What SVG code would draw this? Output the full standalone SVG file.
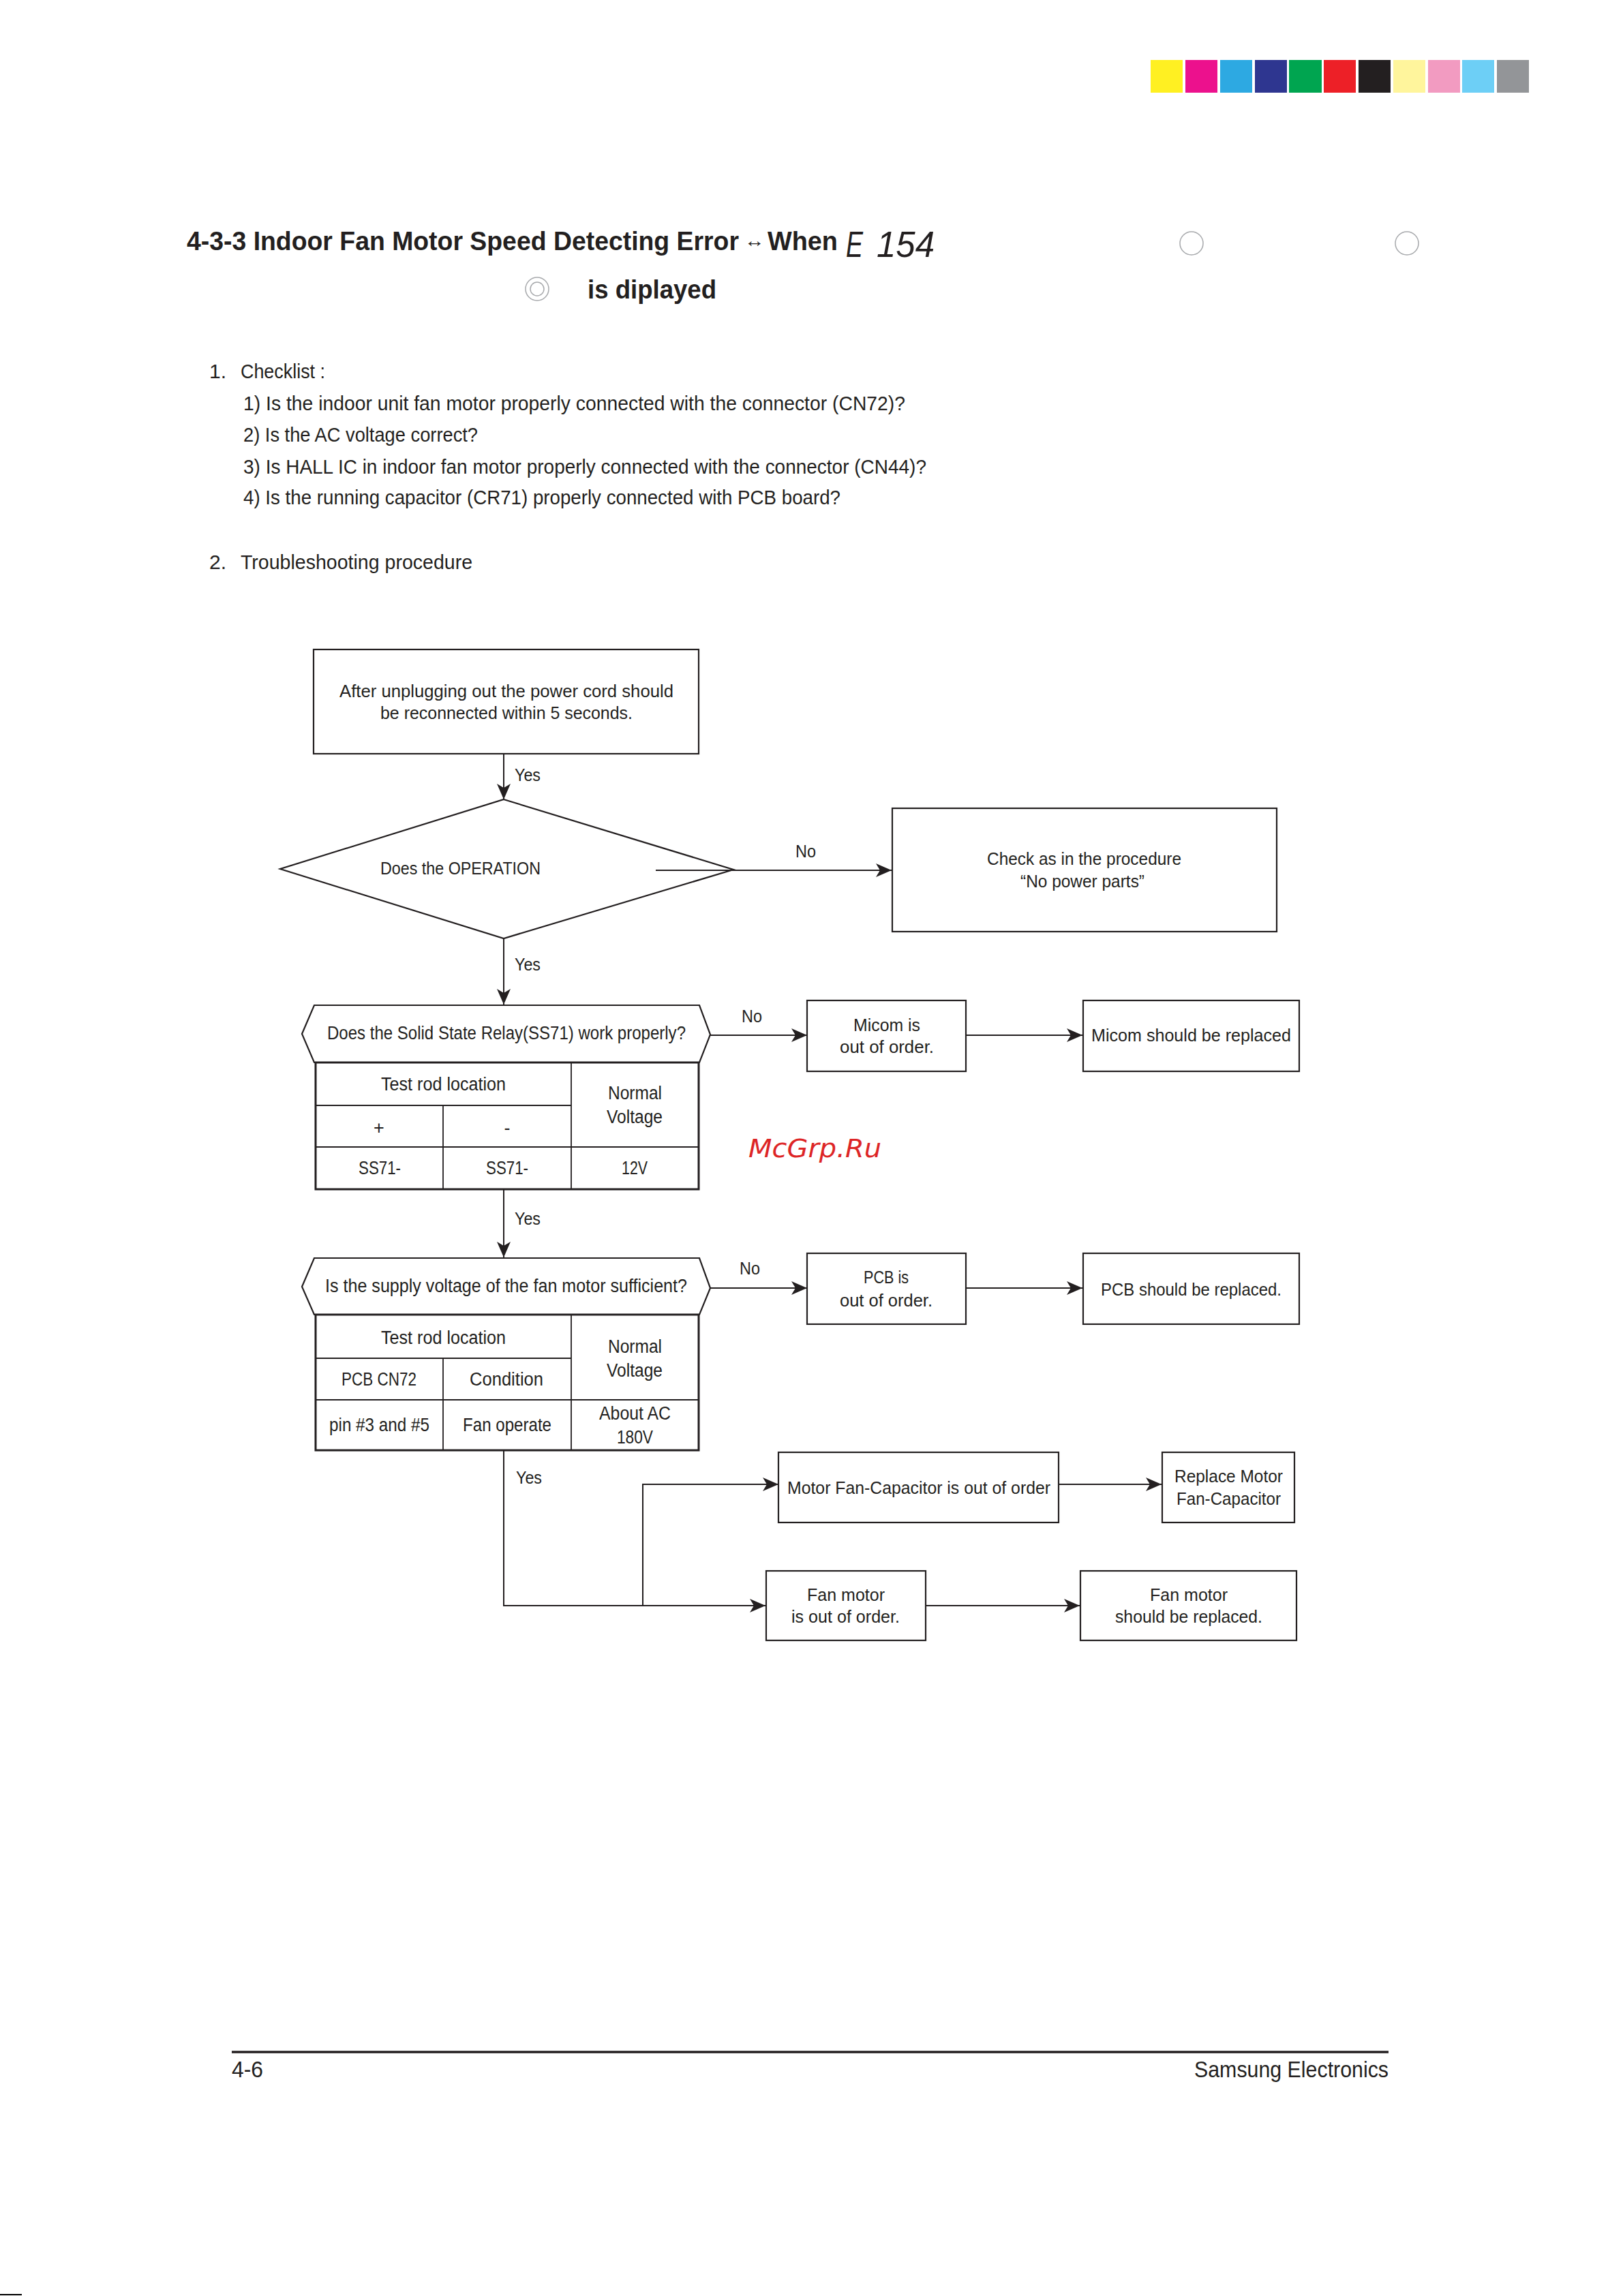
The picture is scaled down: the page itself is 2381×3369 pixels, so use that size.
<svg xmlns="http://www.w3.org/2000/svg" width="2381" height="3369" viewBox="0 0 2381 3369">
<style>
text{font-family:"Liberation Sans",Arial,sans-serif;fill:#231F20}
.b{font-weight:bold;font-size:38px}
.ck{font-size:30px}
.f{font-size:26px}
.tb{font-size:27px}
.box{fill:none;stroke:#231F20;stroke-width:2.2}
.tab{fill:none;stroke:#231F20;stroke-width:3}
.in{stroke:#231F20;stroke-width:1.8;fill:none}
.con{fill:none;stroke:#231F20;stroke-width:2}
.gc{fill:none;stroke:#a7a9ac;stroke-width:1.5}
</style>
<defs>
<marker id="ah" markerUnits="userSpaceOnUse" markerWidth="24" markerHeight="22" refX="23" refY="11" orient="auto">
<path d="M0,1 L23,11 L0,21 L6,11 Z" fill="#231F20"/>
</marker>
</defs>
<rect width="2381" height="3369" fill="#ffffff"/>
<g id="colorbar">
<rect x="1688" y="88" width="47" height="48" fill="#FFF022"/>
<rect x="1739" y="88" width="47" height="48" fill="#EC118D"/>
<rect x="1790" y="88" width="47" height="48" fill="#2DA9E2"/>
<rect x="1841" y="88" width="47" height="48" fill="#2E3690"/>
<rect x="1891" y="88" width="48" height="48" fill="#00A550"/>
<rect x="1942" y="88" width="47" height="48" fill="#ED2027"/>
<rect x="1993" y="88" width="47" height="48" fill="#231F20"/>
<rect x="2044" y="88" width="47" height="48" fill="#FFF59C"/>
<rect x="2095" y="88" width="47" height="48" fill="#F29BC1"/>
<rect x="2145" y="88" width="47" height="48" fill="#6DCFF6"/>
<rect x="2196" y="88" width="47" height="48" fill="#939598"/>
</g>
<g id="title">
<text class="b" x="274" y="367" textLength="810" lengthAdjust="spacingAndGlyphs">4-3-3 Indoor Fan Motor Speed Detecting Error</text>
<text x="1092" y="362" font-size="26" textLength="30" lengthAdjust="spacingAndGlyphs">↔</text>
<text class="b" x="1126" y="367" textLength="103" lengthAdjust="spacingAndGlyphs">When</text>
<text x="1241" y="377" font-size="54" font-style="italic" textLength="25" lengthAdjust="spacingAndGlyphs">E</text>
<text x="1286" y="377" font-size="54" font-style="italic" textLength="85" lengthAdjust="spacingAndGlyphs">154</text>
<circle class="gc" cx="1748" cy="357" r="17"/>
<circle class="gc" cx="2064" cy="357" r="17"/>
<circle class="gc" cx="788" cy="424" r="17"/>
<circle class="gc" cx="788" cy="424" r="10"/>
<text class="b" x="862" y="438" textLength="189" lengthAdjust="spacingAndGlyphs">is diplayed</text>
</g>
<g id="checklist">
<text class="ck" x="307" y="555">1.</text>
<text class="ck" x="353" y="555" textLength="124" lengthAdjust="spacingAndGlyphs">Checklist :</text>
<text class="ck" x="357" y="602" textLength="971" lengthAdjust="spacingAndGlyphs">1) Is the indoor unit fan motor properly connected with the connector (CN72)?</text>
<text class="ck" x="357" y="648" textLength="344" lengthAdjust="spacingAndGlyphs">2) Is the AC voltage correct?</text>
<text class="ck" x="357" y="695" textLength="1002" lengthAdjust="spacingAndGlyphs">3) Is HALL IC in indoor fan motor properly connected with the connector (CN44)?</text>
<text class="ck" x="357" y="740" textLength="876" lengthAdjust="spacingAndGlyphs">4) Is the running capacitor (CR71) properly connected with PCB board?</text>
<text class="ck" x="307" y="835">2.</text>
<text class="ck" x="353" y="835" textLength="340" lengthAdjust="spacingAndGlyphs">Troubleshooting procedure</text>
</g>
<g id="connectors">
<path class="con" d="M739,1106 V1173" marker-end="url(#ah)"/>
<path class="con" d="M962,1277 H1308" marker-end="url(#ah)"/>
<path class="con" d="M739,1377 V1474" marker-end="url(#ah)"/>
<path class="con" d="M1042,1519 H1184" marker-end="url(#ah)"/>
<path class="con" d="M1417,1519 H1588" marker-end="url(#ah)"/>
<path class="con" d="M739,1745 V1845" marker-end="url(#ah)"/>
<path class="con" d="M1042,1890 H1184" marker-end="url(#ah)"/>
<path class="con" d="M1417,1890 H1588" marker-end="url(#ah)"/>
<path class="con" d="M739,2128 V2356 H1123" marker-end="url(#ah)"/>
<path class="con" d="M943,2356 V2178 H1142" marker-end="url(#ah)"/>
<path class="con" d="M1553,2178 H1704" marker-end="url(#ah)"/>
<path class="con" d="M1358,2356 H1584" marker-end="url(#ah)"/>
<text class="f" x="755" y="1146" textLength="38" lengthAdjust="spacingAndGlyphs">Yes</text>
<text class="f" x="1167" y="1258" textLength="30" lengthAdjust="spacingAndGlyphs">No</text>
<text class="f" x="755" y="1424" textLength="38" lengthAdjust="spacingAndGlyphs">Yes</text>
<text class="f" x="1088" y="1500" textLength="30" lengthAdjust="spacingAndGlyphs">No</text>
<text class="f" x="755" y="1797" textLength="38" lengthAdjust="spacingAndGlyphs">Yes</text>
<text class="f" x="1085" y="1870" textLength="30" lengthAdjust="spacingAndGlyphs">No</text>
<text class="f" x="757" y="2177" textLength="38" lengthAdjust="spacingAndGlyphs">Yes</text>
</g>
<g id="node-start">
<rect class="box" x="460" y="953" width="565" height="153"/>
<text class="f" x="498" y="1023" textLength="490" lengthAdjust="spacingAndGlyphs">After unplugging out the power cord should</text>
<text class="f" x="558" y="1055" textLength="370" lengthAdjust="spacingAndGlyphs">be reconnected within 5 seconds.</text>
</g>
<g id="node-operation">
<polygon class="box" points="739,1173 1076,1276 739,1377 411,1275"/>
<text class="f" x="558" y="1283" textLength="235" lengthAdjust="spacingAndGlyphs">Does the OPERATION</text>
</g>
<g id="node-nopower">
<rect class="box" x="1309" y="1186" width="564" height="181"/>
<text class="f" x="1448" y="1269" textLength="285" lengthAdjust="spacingAndGlyphs">Check as in the procedure</text>
<text class="f" x="1497" y="1302" textLength="182" lengthAdjust="spacingAndGlyphs">“No power parts”</text>
</g>
<g id="node-ssr">
<polygon class="box" points="443,1517 461,1475 1026,1475 1042,1518 1026,1559 461,1559"/>
<text class="tb" x="480" y="1525" textLength="526" lengthAdjust="spacingAndGlyphs">Does the Solid State Relay(SS71) work properly?</text>
<rect class="tab" x="463" y="1559" width="562" height="186"/>
<path class="in" d="M463,1622 H838 M463,1683 H1025 M650,1622 V1745 M838,1559 V1745"/>
<text class="tb" x="559" y="1600" textLength="183" lengthAdjust="spacingAndGlyphs">Test rod location</text>
<text class="tb" x="892" y="1613" textLength="79" lengthAdjust="spacingAndGlyphs">Normal</text>
<text class="tb" x="890" y="1648" textLength="82" lengthAdjust="spacingAndGlyphs">Voltage</text>
<text class="tb" x="556" y="1664" text-anchor="middle">+</text>
<text class="tb" x="744" y="1664" text-anchor="middle">-</text>
<text class="tb" x="526" y="1723" textLength="62" lengthAdjust="spacingAndGlyphs">SS71-</text>
<text class="tb" x="713" y="1723" textLength="62" lengthAdjust="spacingAndGlyphs">SS71-</text>
<text class="tb" x="912" y="1723" textLength="38" lengthAdjust="spacingAndGlyphs">12V</text>
</g>
<g id="node-micom">
<rect class="box" x="1184" y="1468" width="233" height="104"/>
<text class="f" x="1252" y="1513" textLength="98" lengthAdjust="spacingAndGlyphs">Micom is</text>
<text class="f" x="1232" y="1545" textLength="138" lengthAdjust="spacingAndGlyphs">out of order.</text>
</g>
<g id="node-micom-replace">
<rect class="box" x="1589" y="1468" width="317" height="104"/>
<text class="f" x="1601" y="1528" textLength="293" lengthAdjust="spacingAndGlyphs">Micom should be replaced</text>
</g>
<g id="node-supply">
<polygon class="box" points="443,1888 461,1846 1026,1846 1042,1890 1026,1929 461,1929"/>
<text class="tb" x="477" y="1896" textLength="531" lengthAdjust="spacingAndGlyphs">Is the supply voltage of the fan motor sufficient?</text>
<rect class="tab" x="463" y="1929" width="562" height="199"/>
<path class="in" d="M463,1993 H838 M463,2054 H1025 M650,1993 V2128 M838,1929 V2128"/>
<text class="tb" x="559" y="1972" textLength="183" lengthAdjust="spacingAndGlyphs">Test rod location</text>
<text class="tb" x="892" y="1985" textLength="79" lengthAdjust="spacingAndGlyphs">Normal</text>
<text class="tb" x="890" y="2020" textLength="82" lengthAdjust="spacingAndGlyphs">Voltage</text>
<text class="tb" x="501" y="2033" textLength="110" lengthAdjust="spacingAndGlyphs">PCB CN72</text>
<text class="tb" x="689" y="2033" textLength="108" lengthAdjust="spacingAndGlyphs">Condition</text>
<text class="tb" x="483" y="2100" textLength="147" lengthAdjust="spacingAndGlyphs">pin #3 and #5</text>
<text class="tb" x="679" y="2100" textLength="130" lengthAdjust="spacingAndGlyphs">Fan operate</text>
<text class="tb" x="879" y="2083" textLength="105" lengthAdjust="spacingAndGlyphs">About AC</text>
<text class="tb" x="905" y="2118" textLength="53" lengthAdjust="spacingAndGlyphs">180V</text>
</g>
<g id="node-pcb">
<rect class="box" x="1184" y="1839" width="233" height="104"/>
<text class="f" x="1267" y="1883" textLength="66" lengthAdjust="spacingAndGlyphs">PCB is</text>
<text class="f" x="1232" y="1917" textLength="136" lengthAdjust="spacingAndGlyphs">out of order.</text>
</g>
<g id="node-pcb-replace">
<rect class="box" x="1589" y="1839" width="317" height="104"/>
<text class="f" x="1615" y="1901" textLength="265" lengthAdjust="spacingAndGlyphs">PCB should be replaced.</text>
</g>
<g id="node-capacitor">
<rect class="box" x="1142" y="2131" width="411" height="103"/>
<text class="f" x="1155" y="2192" textLength="386" lengthAdjust="spacingAndGlyphs">Motor Fan-Capacitor is out of order</text>
</g>
<g id="node-capacitor-replace">
<rect class="box" x="1705" y="2131" width="194" height="103"/>
<text class="f" x="1723" y="2175" textLength="159" lengthAdjust="spacingAndGlyphs">Replace Motor</text>
<text class="f" x="1726" y="2208" textLength="153" lengthAdjust="spacingAndGlyphs">Fan-Capacitor</text>
</g>
<g id="node-fanmotor">
<rect class="box" x="1124" y="2305" width="234" height="102"/>
<text class="f" x="1184" y="2349" textLength="114" lengthAdjust="spacingAndGlyphs">Fan motor</text>
<text class="f" x="1161" y="2381" textLength="159" lengthAdjust="spacingAndGlyphs">is out of order.</text>
</g>
<g id="node-fanmotor-replace">
<rect class="box" x="1585" y="2305" width="317" height="102"/>
<text class="f" x="1687" y="2349" textLength="114" lengthAdjust="spacingAndGlyphs">Fan motor</text>
<text class="f" x="1636" y="2381" textLength="216" lengthAdjust="spacingAndGlyphs">should be replaced.</text>
</g>
<g id="watermark">
<text x="1098" y="1698" font-style="italic" font-size="38" style="font-family:'DejaVu Sans',sans-serif;fill:#DD2526" textLength="195" lengthAdjust="spacingAndGlyphs">McGrp.Ru</text>
</g>
<g id="footer">
<line x1="340" y1="3011" x2="2037" y2="3011" stroke="#231F20" stroke-width="3.3"/>
<text x="340" y="3048" font-size="33" textLength="46" lengthAdjust="spacingAndGlyphs">4-6</text>
<text x="1752" y="3048" font-size="33" textLength="285" lengthAdjust="spacingAndGlyphs">Samsung Electronics</text>
<line x1="0" y1="3367" x2="32" y2="3367" stroke="#000" stroke-width="2"/>
</g>
</svg>
